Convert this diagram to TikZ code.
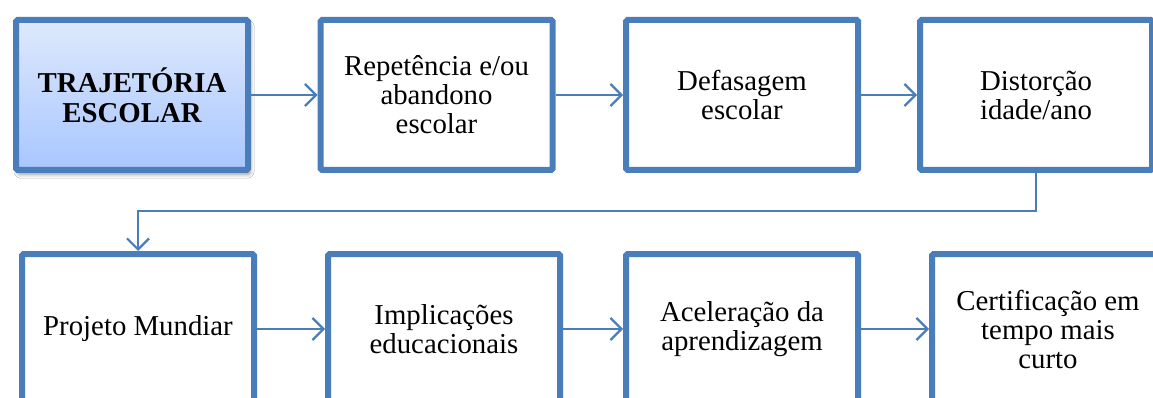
\documentclass[tikz,border=0pt]{standalone}
\usepackage{fontspec}
\setmainfont{Liberation Serif}
\usetikzlibrary{arrows.meta,shadows.blur}
\definecolor{bord}{HTML}{4A7EBB}
\definecolor{gtop}{HTML}{DEE9FC}
\definecolor{gbot}{HTML}{A8C6FF}
\tikzset{
  box/.style={draw=bord, line width=6pt, fill=white, minimum width=232pt, minimum height=150pt,
    rounded corners=1.5pt, align=center, inner sep=0pt, text=black,
    font=\fontsize{28.8}{29}\selectfont},
  startbox/.style={box, top color=gtop, bottom color=gbot,
    blur shadow={shadow xshift=2pt, shadow yshift=-4pt, shadow blur radius=4pt, shadow opacity=45},
    font=\fontsize{28.8}{30}\selectfont\bfseries},
  arr/.style={draw=bord, line width=2.2pt, -{Straight Barb[length=11pt,width=22pt,line width=2.2pt]}},
}
\begin{document}
\begin{tikzpicture}[x=1pt,y=-1pt]
\path[use as bounding box, clip] (0,0) rectangle (1153,398);
\fill[white] (0,0) rectangle (1153,398);
\node[startbox] (b1) at (132,95) {TRAJETÓRIA\\ESCOLAR};
\node[box] (b2) at (436.5,95) {Repetência e/ou\\abandono\\escolar};
\node[box] (b3) at (742,95) {Defasagem\\escolar};
\node[box] (b4) at (1036,95) {Distorção\\idade/ano};
\node[box] (b5) at (138,329) {Projeto Mundiar};
\node[box] (b6) at (444,329) {Implicações\\educacionais};
\node[box] (b7) at (742,329) {Aceleração da\\aprendizagem};
\node[box] (b8) at (1048,329) {Certificação em\\tempo mais\\curto};
\coordinate (k) at (1036,211);
\draw[arr] (b1.east) -- (b2.west);
\draw[arr] (b2.east) -- (b3.west);
\draw[arr] (b3.east) -- (b4.west);
\draw[arr] (b4.south) -- (k) -| (b5.north);
\draw[arr] (b5.east) -- (b6.west);
\draw[arr] (b6.east) -- (b7.west);
\draw[arr] (b7.east) -- (b8.west);
\end{tikzpicture}
\end{document}
